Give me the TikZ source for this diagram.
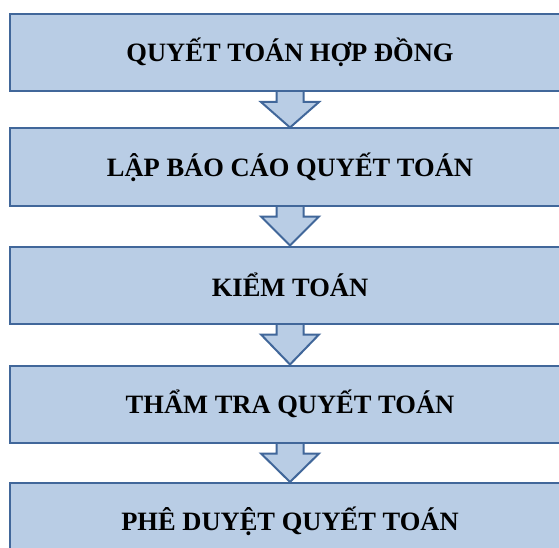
\documentclass[tikz,border=0pt]{standalone}
\usepackage{fontspec}
\setmainfont{Liberation Serif}
\usetikzlibrary{calc, backgrounds}
\definecolor{boxfill}{HTML}{B9CDE5}
\definecolor{boxline}{HTML}{41679A}
\tikzset{stage/.style={draw=boxline, fill=boxfill, line width=2pt,
           minimum width=560pt, minimum height=77pt, inner sep=0pt,
           font=\fontsize{26.5}{30}\selectfont\bfseries},
         flowarrow/.style={draw=boxline, fill=boxfill, line width=2pt}}

\begin{document}
\begin{tikzpicture}[x=1pt, y=-1pt]
        \useasboundingbox (0,0) rectangle (559,548);
        \node[stage] (s1) at (290,52.5) {QUYẾT TOÁN HỢP ĐỒNG};
        \node[stage] (s2) at (290,167) {LẬP BÁO CÁO QUYẾT TOÁN};
        \node[stage] (s3) at (290,285) {KIỂM TOÁN};
        \node[stage] (s4) at (290,404) {THẨM TRA QUYẾT TOÁN};
        \node[stage] (s5) at (290,521.5) {PHÊ DUYỆT QUYẾT TOÁN};
        % block arrows behind the boxes
        \begin{scope}[on background layer]
        \filldraw[flowarrow] ($(s1.south)+(-13.5,-5)$) -- ($(s1.south)+(-13.5,10)$) -- ($(s1.south)+(-29,10)$) -- (s2.north) -- ($(s1.south)+(29,10)$) -- ($(s1.south)+(13.5,10)$) -- ($(s1.south)+(13.5,-5)$) -- cycle;
        \filldraw[flowarrow] ($(s2.south)+(-13.5,-5)$) -- ($(s2.south)+(-13.5,10)$) -- ($(s2.south)+(-29,10)$) -- (s3.north) -- ($(s2.south)+(29,10)$) -- ($(s2.south)+(13.5,10)$) -- ($(s2.south)+(13.5,-5)$) -- cycle;
        \filldraw[flowarrow] ($(s3.south)+(-13.5,-5)$) -- ($(s3.south)+(-13.5,10)$) -- ($(s3.south)+(-29,10)$) -- (s4.north) -- ($(s3.south)+(29,10)$) -- ($(s3.south)+(13.5,10)$) -- ($(s3.south)+(13.5,-5)$) -- cycle;
        \filldraw[flowarrow] ($(s4.south)+(-13.5,-5)$) -- ($(s4.south)+(-13.5,10)$) -- ($(s4.south)+(-29,10)$) -- (s5.north) -- ($(s4.south)+(29,10)$) -- ($(s4.south)+(13.5,10)$) -- ($(s4.south)+(13.5,-5)$) -- cycle;
        \end{scope}
\end{tikzpicture}
\end{document}
